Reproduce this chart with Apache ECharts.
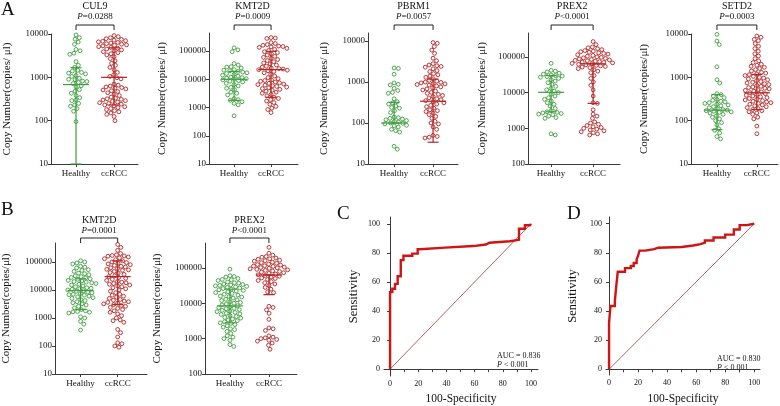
<!DOCTYPE html>
<html><head><meta charset="utf-8">
<script src="https://cdn.jsdelivr.net/npm/echarts@6/dist/echarts.min.js"></script>
<style>html,body{margin:0;padding:0;background:#fff}#c{width:780px;height:406px}</style>
</head><body><div id="c"></div>
<script>
// ---------------- DATA ----------------
const categories = ['Healthy', 'ccRCC'];
const geneNames = ['CUL9', 'KMT2D', 'PBRM1', 'PREX2', 'SETD2', 'KMT2D', 'PREX2'];
const pTexts = ['=0.0288', '=0.0009', '=0.0057', '<0.0001', '=0.0003', '=0.0001', '<0.0001'];
const yMins = [10, 10, 10, 100, 10, 10, 100];
const yMaxs = [10000, 436000, 15700, 468000, 10000, 475000, 505000];
const yTicks = [
  [10, 100, 1000, 10000],
  [10, 100, 1000, 10000, 100000],
  [10, 100, 1000, 10000],
  [100, 1000, 10000, 100000],
  [10, 100, 1000, 10000],
  [10, 100, 1000, 10000, 100000],
  [100, 1000, 10000, 100000]
];
const yNames = ['Copy Number(copies/ μl)', 'Copy Number(copies/ μl)', 'Copy Number(copies/ μl)',
  'Copy Number(copies/ μl)', 'Copy Number(copies/μl)', 'Copy Number(copies/μl)', 'Copy Number(copies/μl)'];

const cul9Healthy = [9500, 8200, 7600, 6500, 5800, 4400, 4100, 3600, 3400, 2300, 1900, 1700, 1450, 1400, 1300, 1250, 1200, 1100, 1050, 950, 900, 880, 820, 800, 760, 720, 640, 600, 520, 480, 430, 380, 340, 300, 290, 250, 230, 215, 190, 165, 95];
const cul9Ccrcc = [9200, 8700, 8200, 7800, 7500, 7200, 7000, 6800, 6600, 6400, 6200, 6000, 5800, 5600, 5500, 5300, 5100, 4900, 4700, 4500, 4300, 4100, 3900, 3700, 3500, 3300, 3000, 2700, 2400, 2100, 1900, 1700, 1500, 1300, 1150, 1050, 980, 920, 700, 660, 630, 600, 580, 560, 540, 510, 490, 470, 440, 410, 380, 350, 330, 320, 310, 300, 290, 280, 270, 260, 250, 240, 230, 220, 210, 200, 190, 180, 170, 160, 150, 140, 125, 100];
const kmt2dHealthy = [130000, 110000, 95000, 36000, 32000, 28000, 27000, 25000, 22000, 21000, 20000, 19000, 18000, 17000, 16000, 15000, 14000, 13000, 12000, 11500, 11000, 10500, 10000, 9500, 9000, 8500, 8000, 7200, 6500, 5800, 5200, 4800, 4300, 3500, 3200, 2800, 2100, 1900, 1800, 1600, 1400, 1250, 510];
const kmt2dCcrcc = [300000, 290000, 280000, 200000, 185000, 170000, 160000, 150000, 145000, 140000, 135000, 125000, 115000, 105000, 95000, 88000, 80000, 72000, 65000, 60000, 55000, 50000, 46000, 42000, 38000, 35000, 32000, 29000, 27000, 25000, 24000, 23000, 22000, 21000, 20000, 19000, 17000, 15000, 13000, 11500, 10500, 9500, 9000, 8500, 8000, 7500, 7200, 6800, 6500, 6200, 5900, 5600, 5300, 5000, 4700, 4400, 4100, 3800, 3500, 3200, 2900, 2600, 2300, 2100, 1900, 1700, 1500, 1300, 1100, 950, 850, 660];
const pbrm1Healthy = [2200, 2150, 1550, 950, 880, 850, 700, 620, 560, 530, 390, 330, 310, 290, 260, 240, 230, 200, 180, 140, 135, 130, 125, 120, 115, 110, 105, 100, 98, 95, 88, 85, 80, 70, 65, 60, 27, 23];
const pbrm1Ccrcc = [9200, 8800, 7300, 6000, 5000, 3800, 3300, 2800, 2600, 2500, 2400, 2300, 2100, 1900, 1800, 1600, 1500, 1400, 1300, 1200, 1100, 1050, 1000, 980, 950, 920, 900, 870, 840, 800, 760, 720, 680, 640, 600, 560, 530, 500, 470, 440, 410, 390, 370, 350, 330, 310, 290, 270, 250, 230, 210, 200, 190, 175, 160, 145, 130, 110, 100, 95, 80, 70, 50, 47, 45, 43];
const prex2Healthy = [66000, 42000, 40000, 38000, 35000, 33000, 31000, 30000, 29000, 28000, 27000, 25000, 23000, 21000, 19000, 17000, 15000, 13000, 12000, 11000, 10000, 9000, 8000, 7200, 6500, 5800, 5200, 4700, 4200, 3600, 3100, 2900, 2800, 2700, 2600, 2500, 2400, 2200, 2000, 1900, 700, 650];
const prex2Ccrcc = [270000, 220000, 190000, 180000, 170000, 160000, 150000, 145000, 140000, 135000, 130000, 125000, 120000, 115000, 110000, 105000, 100000, 97000, 94000, 91000, 88000, 85000, 82000, 80000, 78000, 76000, 74000, 72000, 70000, 68000, 66000, 64000, 62000, 60000, 58000, 56000, 54000, 52000, 50000, 47000, 44000, 40000, 36000, 30000, 25000, 20000, 16000, 12000, 8000, 5200, 5000, 3300, 2500, 2200, 1900, 1500, 1400, 1300, 1200, 1100, 1050, 1000, 950, 900, 850, 800, 750, 700, 650];
const setd2Healthy = [9800, 6900, 5700, 1750, 880, 740, 420, 400, 370, 340, 310, 295, 280, 270, 260, 250, 240, 230, 220, 210, 200, 190, 180, 175, 170, 165, 160, 155, 150, 140, 130, 120, 110, 100, 90, 80, 65, 60, 52, 43, 38];
const setd2Ccrcc = [9000, 8400, 7500, 7000, 6000, 5200, 4600, 4000, 3500, 3100, 2700, 2400, 2200, 2000, 1900, 1800, 1700, 1600, 1500, 1400, 1300, 1250, 1200, 1150, 1100, 1050, 1000, 960, 920, 880, 840, 800, 770, 740, 710, 680, 650, 620, 600, 580, 560, 540, 520, 500, 480, 460, 440, 420, 400, 385, 370, 355, 340, 325, 310, 300, 290, 280, 270, 260, 250, 240, 230, 220, 210, 200, 190, 180, 170, 160, 150, 140, 120, 110, 75, 50];
const bKmt2dHealthy = [110000, 100000, 92000, 85000, 70000, 65000, 61000, 53000, 50000, 46000, 40000, 38000, 35000, 32000, 30000, 28000, 27000, 25000, 24000, 22000, 21000, 20000, 19000, 18000, 17000, 16000, 15000, 14000, 13000, 12000, 11500, 11000, 10500, 10000, 9400, 9000, 8400, 8000, 7500, 7000, 6800, 6500, 6000, 5700, 5300, 5000, 4500, 4200, 3800, 3500, 3200, 2900, 2600, 2300, 2000, 1800, 1700, 1650, 1600, 1500, 1100, 1000, 760, 600, 370];
const bKmt2dCcrcc = [420000, 330000, 260000, 200000, 180000, 170000, 165000, 160000, 150000, 140000, 130000, 120000, 110000, 100000, 95000, 90000, 85000, 80000, 75000, 70000, 66000, 62000, 58000, 55000, 52000, 50000, 46000, 42000, 40000, 36000, 32000, 30000, 28000, 26000, 24000, 22000, 20000, 19000, 18000, 17000, 16000, 15000, 14000, 13000, 12000, 11000, 10000, 9000, 8000, 7000, 6500, 6000, 5500, 5000, 4600, 4300, 4000, 3800, 3600, 3400, 3200, 3000, 2800, 2600, 2400, 2200, 2000, 1800, 1600, 1400, 1200, 1000, 850, 800, 700, 390, 300, 210, 130, 120, 100, 90];
const bPrex2Healthy = [92000, 60000, 57000, 55000, 50000, 47000, 46000, 44000, 40000, 38000, 37000, 35000, 34000, 33000, 32000, 31000, 30000, 29000, 28000, 27000, 26000, 25000, 24000, 23000, 22000, 21000, 20000, 19000, 18000, 17000, 16000, 15500, 15000, 14000, 13000, 12500, 12000, 11000, 10500, 10000, 9500, 9000, 8500, 8000, 7500, 7200, 7000, 6600, 6300, 6000, 5800, 5500, 5200, 5000, 4800, 4500, 4200, 4000, 3800, 3600, 3400, 3200, 3000, 2800, 2700, 2500, 2300, 2100, 1900, 1800, 1600, 1400, 1200, 1100, 1000, 900, 680, 600];
const bPrex2Ccrcc = [380000, 260000, 230000, 210000, 200000, 190000, 180000, 175000, 165000, 160000, 155000, 145000, 140000, 135000, 128000, 124000, 120000, 115000, 112000, 110000, 105000, 102000, 100000, 97000, 94000, 91000, 88000, 85000, 82000, 79000, 76000, 73000, 70000, 67000, 64000, 61000, 58000, 55000, 52000, 50000, 47000, 44000, 41000, 38000, 35000, 32000, 28000, 25000, 21000, 20000, 8200, 7600, 6500, 5200, 3500, 2000, 1900, 1700, 1200, 1100, 1050, 1000, 950, 900, 850, 750, 650, 500];

// summary bars: [center, upper, lower]
const barsHealthy = [[680, 1670, 10], [10000, 19000, 1800], [100, 320, 100], [10200, 30000, 2900], [175, 400, 62], [9500, 25000, 2000], [8400, 25000, 2800]];
const barsCcrcc = [[1000, 4800, 230], [22000, 98000, 2300], [340, 1180, 34], [64000, 64000, 5000], [440, 1170, 180], [30000, 110000, 3000], [63000, 63000, 17500]];

// ROC curves
const rocCx = [0, 0, 1.6, 1.6, 3.5, 3.5, 5.4, 5.4, 7.6, 7.6, 9.5, 9.5, 15.8, 15.8, 19.6, 19.6, 21.3, 21.3, 39, 39, 59, 59, 68, 68, 70.5, 70.5, 85, 85, 91.5, 91.5, 95.7, 95.7, 99.3, 99.3, 100];
const rocCy = [0, 53, 53, 55.3, 55.3, 58.7, 58.7, 63.9, 63.9, 75, 75, 78, 78, 79.5, 79.5, 82.5, 82.5, 83.6, 83.6, 84.7, 84.7, 85.8, 85.8, 87, 87, 88, 88, 89, 89, 96.6, 96.6, 99, 99, 100, 100];
const rocDx = [0, 0, 1, 1, 4, 4, 5, 5, 6, 6, 11, 11, 15, 15, 17, 17, 19, 19, 20, 20, 21, 21, 25, 25, 31, 31, 34, 34, 50, 50, 58, 58, 63, 63, 66, 66, 72, 72, 80, 80, 86, 86, 90, 90, 95, 95, 100];
const rocDy = [0, 32, 32, 43.5, 43.5, 47, 47, 57.5, 57.5, 67, 67, 69.5, 69.5, 71, 71, 73, 73, 75.5, 75.5, 78, 78, 81.5, 81.5, 82.5, 82.5, 83.5, 83.5, 84, 84, 85, 85, 86, 86, 87, 87, 88.5, 88.5, 90.5, 90.5, 92.5, 92.5, 96, 96, 99, 99, 100, 100];
const diagonal = [0, 100];
const rocTicks = [0, 20, 40, 60, 80, 100];
const rocMinorTicks = [0, 10, 20, 30, 40, 50, 60, 70, 80, 90, 100];
const aucTexts = ['AUC = 0.836', 'AUC = 0.830'];
const rocPTexts = ['< 0.001', '< 0.001'];

const healthyData = [cul9Healthy, kmt2dHealthy, pbrm1Healthy, prex2Healthy, setd2Healthy, bKmt2dHealthy, bPrex2Healthy];
const ccrccData = [cul9Ccrcc, kmt2dCcrcc, pbrm1Ccrcc, prex2Ccrcc, setd2Ccrcc, bKmt2dCcrcc, bPrex2Ccrcc];

// ---------------- LAYOUT / STYLE ----------------
const FONT = '"Liberation Serif", "Times New Roman", serif';
const GREEN = '#3d9d3d', RED = '#b32424', AXIS = '#3a3a3a', TXT = '#111';
const layout = [
  { left: 51, top: 34, width: 87, height: 130, xMin: 0.342, xMax: 2.63, nameGap: 38, row: 0 },
  { left: 209, top: 33, width: 89, height: 131, xMin: 0.32, xMax: 2.73, nameGap: 41, row: 0 },
  { left: 368, top: 33, width: 90, height: 131, xMin: 0.33, xMax: 2.64, nameGap: 38, row: 0 },
  { left: 528, top: 33, width: 92, height: 131, xMin: 0.45, xMax: 2.64, nameGap: 40, row: 0 },
  { left: 691, top: 34, width: 87, height: 130, xMin: 0.35, xMax: 2.53, nameGap: 41, row: 0 },
  { left: 50, top: 243, width: 97, height: 131, xMin: 0.31, xMax: 2.79, nameGap: 43, row: 1 },
  { left: 205, top: 243, width: 92, height: 131, xMin: 0.36, xMax: 2.72, nameGap: 42, row: 1 }
];
const rowText = [{ gene: 6, p: 17, bracket: 25 }, { gene: 220, p: 231, bracket: 238 }];
const rocLayout = [
  { left: 384, top: 217, width: 154, height: 162, xMin: -4.3, xMax: 105, yMin: -4.7, yMax: 104.7, xGap: 17, yGap: 24 },
  { left: 606, top: 217, width: 154, height: 165, xMin: -2.1, xMax: 104, yMin: -3.9, yMax: 104.6, xGap: 18, yGap: 27 }
];

const chart = echarts.init(document.getElementById('c'));
const grids = [], xAxes = [], yAxes = [], series = [];

layout.forEach((L, i) => {
  grids.push({ left: L.left, top: L.top, width: L.width, height: L.height });
  xAxes.push({
    type: 'value', gridIndex: i, min: L.xMin, max: L.xMax,
    axisLine: { show: true, lineStyle: { color: AXIS, width: 1 } },
    axisTick: { show: true, length: 3, customValues: [1, 2], lineStyle: { color: AXIS } },
    axisLabel: { customValues: [1, 2], formatter: v => categories[Math.round(v) - 1], fontFamily: FONT, fontSize: 9, color: TXT, margin: 5 },
    splitLine: { show: false }
  });
  yAxes.push({
    type: 'log', logBase: 10, gridIndex: i, min: yMins[i], max: yMaxs[i],
    axisLine: { show: true, lineStyle: { color: AXIS, width: 1 } },
    axisTick: { show: true, length: 3, customValues: yTicks[i], lineStyle: { color: AXIS } },
    axisLabel: { customValues: yTicks[i], formatter: v => String(Math.round(v)), fontFamily: FONT, fontSize: 9, color: TXT, margin: 3 },
    splitLine: { show: false },
    name: yNames[i], nameLocation: 'middle', nameGap: L.nameGap, nameRotate: 90,
    nameTextStyle: { fontFamily: FONT, fontSize: 11, color: TXT }
  });
  [[healthyData[i], GREEN, 'h'], [ccrccData[i], RED, 'c']].forEach(([d, col, k]) => {
    series.push({
      id: 's' + i + k, type: 'scatter', xAxisIndex: i, yAxisIndex: i, silent: true,
      symbol: 'circle', symbolSize: 3.8,
      itemStyle: { color: 'rgba(255,255,255,0)', borderColor: col, borderWidth: 0.9, opacity: 1 },
      data: []
    });
  });
  series.push({
    id: 'm' + i, type: 'custom', xAxisIndex: i, yAxisIndex: i, silent: true, z: 5,
    encode: { x: 0, y: 1 },
    data: [[1].concat(barsHealthy[i]), [2].concat(barsCcrcc[i])],
    renderItem: (params, api) => {
      const cat = api.value(0);
      const c = api.coord([cat, api.value(1)]);
      const hi = api.coord([cat, api.value(2)]);
      const lo = api.coord([cat, api.value(3)]);
      const st = { stroke: cat === 1 ? GREEN : RED, lineWidth: 1.2 };
      return { type: 'group', children: [
        { type: 'line', shape: { x1: c[0] - 13, y1: c[1], x2: c[0] + 13, y2: c[1] }, style: st },
        { type: 'line', shape: { x1: c[0], y1: hi[1], x2: c[0], y2: lo[1] }, style: st },
        { type: 'line', shape: { x1: c[0] - 5.5, y1: hi[1], x2: c[0] + 5.5, y2: hi[1] }, style: st },
        { type: 'line', shape: { x1: c[0] - 5.5, y1: lo[1], x2: c[0] + 5.5, y2: lo[1] }, style: st }
      ] };
    }
  });
  const R = rowText[L.row];
  series.push({
    id: 'b' + i, type: 'custom', xAxisIndex: i, yAxisIndex: i, silent: true, clip: false,
    encode: { x: 0, y: 1 },
    data: [[1, yMins[i]]],
    renderItem: (params, api) => {
      const x1 = api.coord([1, yMins[i]])[0], x2 = api.coord([2, yMins[i]])[0];
      const st = { stroke: '#222', lineWidth: 1, fill: null };
      return { type: 'group', children: [
        { type: 'polyline', shape: { points: [[x1, R.bracket + 5], [x1, R.bracket], [x2, R.bracket], [x2, R.bracket + 5]] }, style: st },
        { type: 'text', x: (x1 + x2) / 2, y: R.p, style: {
          text: '{i|P}{n|' + pTexts[i] + '}', align: 'center', verticalAlign: 'middle',
          rich: { i: { fontFamily: FONT, fontSize: 9, fontStyle: 'italic', fill: TXT }, n: { fontFamily: FONT, fontSize: 9, fill: TXT } } } },
        { type: 'text', x: (x1 + x2) / 2, y: R.gene, style: {
          text: geneNames[i], align: 'center', verticalAlign: 'middle', fontFamily: FONT, fontSize: 10, fill: TXT } }
      ] };
    }
  });
});

const rocSets = [[rocCx, rocCy], [rocDx, rocDy]];
rocLayout.forEach((L, j) => {
  const g = grids.length;
  grids.push({ left: L.left, top: L.top, width: L.width, height: L.height });
  xAxes.push({
    type: 'value', gridIndex: g, min: L.xMin, max: L.xMax,
    axisLine: { show: true, lineStyle: { color: AXIS } },
    axisTick: { show: true, length: 3, customValues: rocMinorTicks, lineStyle: { color: AXIS } },
    axisLabel: { customValues: rocTicks, fontFamily: FONT, fontSize: 8, color: TXT, margin: 4 },
    splitLine: { show: false },
    name: '100-Specificity', nameLocation: 'middle', nameGap: L.xGap,
    nameTextStyle: { fontFamily: FONT, fontSize: 11.5, color: TXT }
  });
  yAxes.push({
    type: 'value', gridIndex: g, min: L.yMin, max: L.yMax,
    axisLine: { show: true, lineStyle: { color: AXIS } },
    axisTick: { show: true, length: 3, customValues: rocTicks, lineStyle: { color: AXIS } },
    axisLabel: { customValues: rocTicks, fontFamily: FONT, fontSize: 8, color: TXT, margin: 4 },
    splitLine: { show: false },
    name: 'Sensitivity', nameLocation: 'middle', nameGap: L.yGap,
    nameTextStyle: { fontFamily: FONT, fontSize: 12.5, color: TXT }
  });
  series.push({
    type: 'line', xAxisIndex: g, yAxisIndex: g, silent: true, showSymbol: false, symbol: 'none',
    data: [[diagonal[0], diagonal[0]], [diagonal[1], diagonal[1]]],
    lineStyle: { color: '#9a3a3a', width: 0.8 }
  });
  const [xs, ys] = rocSets[j];
  series.push({
    type: 'line', xAxisIndex: g, yAxisIndex: g, silent: true, showSymbol: false, symbol: 'none', z: 3,
    data: xs.map((x, k) => [x, ys[k]]),
    lineStyle: { color: '#d01414', width: 2.4, join: 'miter' }
  });
});

const letterStyle = { fontFamily: FONT, fontSize: 19, fill: '#111' };
const graphic = [
  { type: 'text', left: 1, top: 1, style: Object.assign({ text: 'A' }, letterStyle) },
  { type: 'text', left: 1, top: 201, style: Object.assign({ text: 'B' }, letterStyle) },
  { type: 'text', left: 337, top: 205, style: Object.assign({ text: 'C' }, letterStyle) },
  { type: 'text', left: 567, top: 205, style: Object.assign({ text: 'D' }, letterStyle) },
  { type: 'text', left: 497, top: 352, style: { text: aucTexts[0], fontFamily: FONT, fontSize: 8, fill: TXT } },
  { type: 'text', left: 497, top: 361, style: { text: '{i|P} ' + rocPTexts[0], rich: { i: { fontStyle: 'italic', fontFamily: FONT, fontSize: 8 } }, fontFamily: FONT, fontSize: 8, fill: TXT } },
  { type: 'text', left: 717, top: 355, style: { text: aucTexts[1], fontFamily: FONT, fontSize: 8, fill: TXT } },
  { type: 'text', left: 717, top: 364, style: { text: '{i|P} ' + rocPTexts[1], rich: { i: { fontStyle: 'italic', fontFamily: FONT, fontSize: 8 } }, fontFamily: FONT, fontSize: 8, fill: TXT } }
];

chart.setOption({ animation: false, grid: grids, xAxis: xAxes, yAxis: yAxes, series: series, graphic: graphic });

// beeswarm placement computed from the values via the axes' own scales
const D = 4.3;
function swarm(values, g, cat) {
  const x0 = chart.convertToPixel({ gridIndex: g }, [cat, values[0]])[0];
  const pxPerUnit = chart.convertToPixel({ gridIndex: g }, [cat + 1, values[0]])[0] - x0;
  const pts = values.map(v => ({ v, y: chart.convertToPixel({ gridIndex: g }, [cat, v])[1] }));
  pts.sort((a, b) => a.y - b.y);
  const placed = [], out = [];
  pts.forEach(p => {
    const cands = [0];
    placed.forEach(q => {
      const dy = Math.abs(q.y - p.y);
      if (dy < D) { const dx = Math.sqrt(D * D - dy * dy); cands.push(q.x + dx, q.x - dx); }
    });
    cands.sort((a, b) => Math.abs(a) - Math.abs(b));
    let chosen = 0;
    for (const c of cands) {
      if (placed.every(q => (q.x - c) * (q.x - c) + (q.y - p.y) * (q.y - p.y) >= D * D - 0.01)) { chosen = c; break; }
    }
    placed.push({ x: chosen, y: p.y });
    out.push([cat + chosen / pxPerUnit, p.v]);
  });
  return out;
}
const upd = [];
layout.forEach((L, i) => {
  upd.push({ id: 's' + i + 'h', data: swarm(healthyData[i], i, 1) });
  upd.push({ id: 's' + i + 'c', data: swarm(ccrccData[i], i, 2) });
});
chart.setOption({ series: upd });
</script></body></html>
